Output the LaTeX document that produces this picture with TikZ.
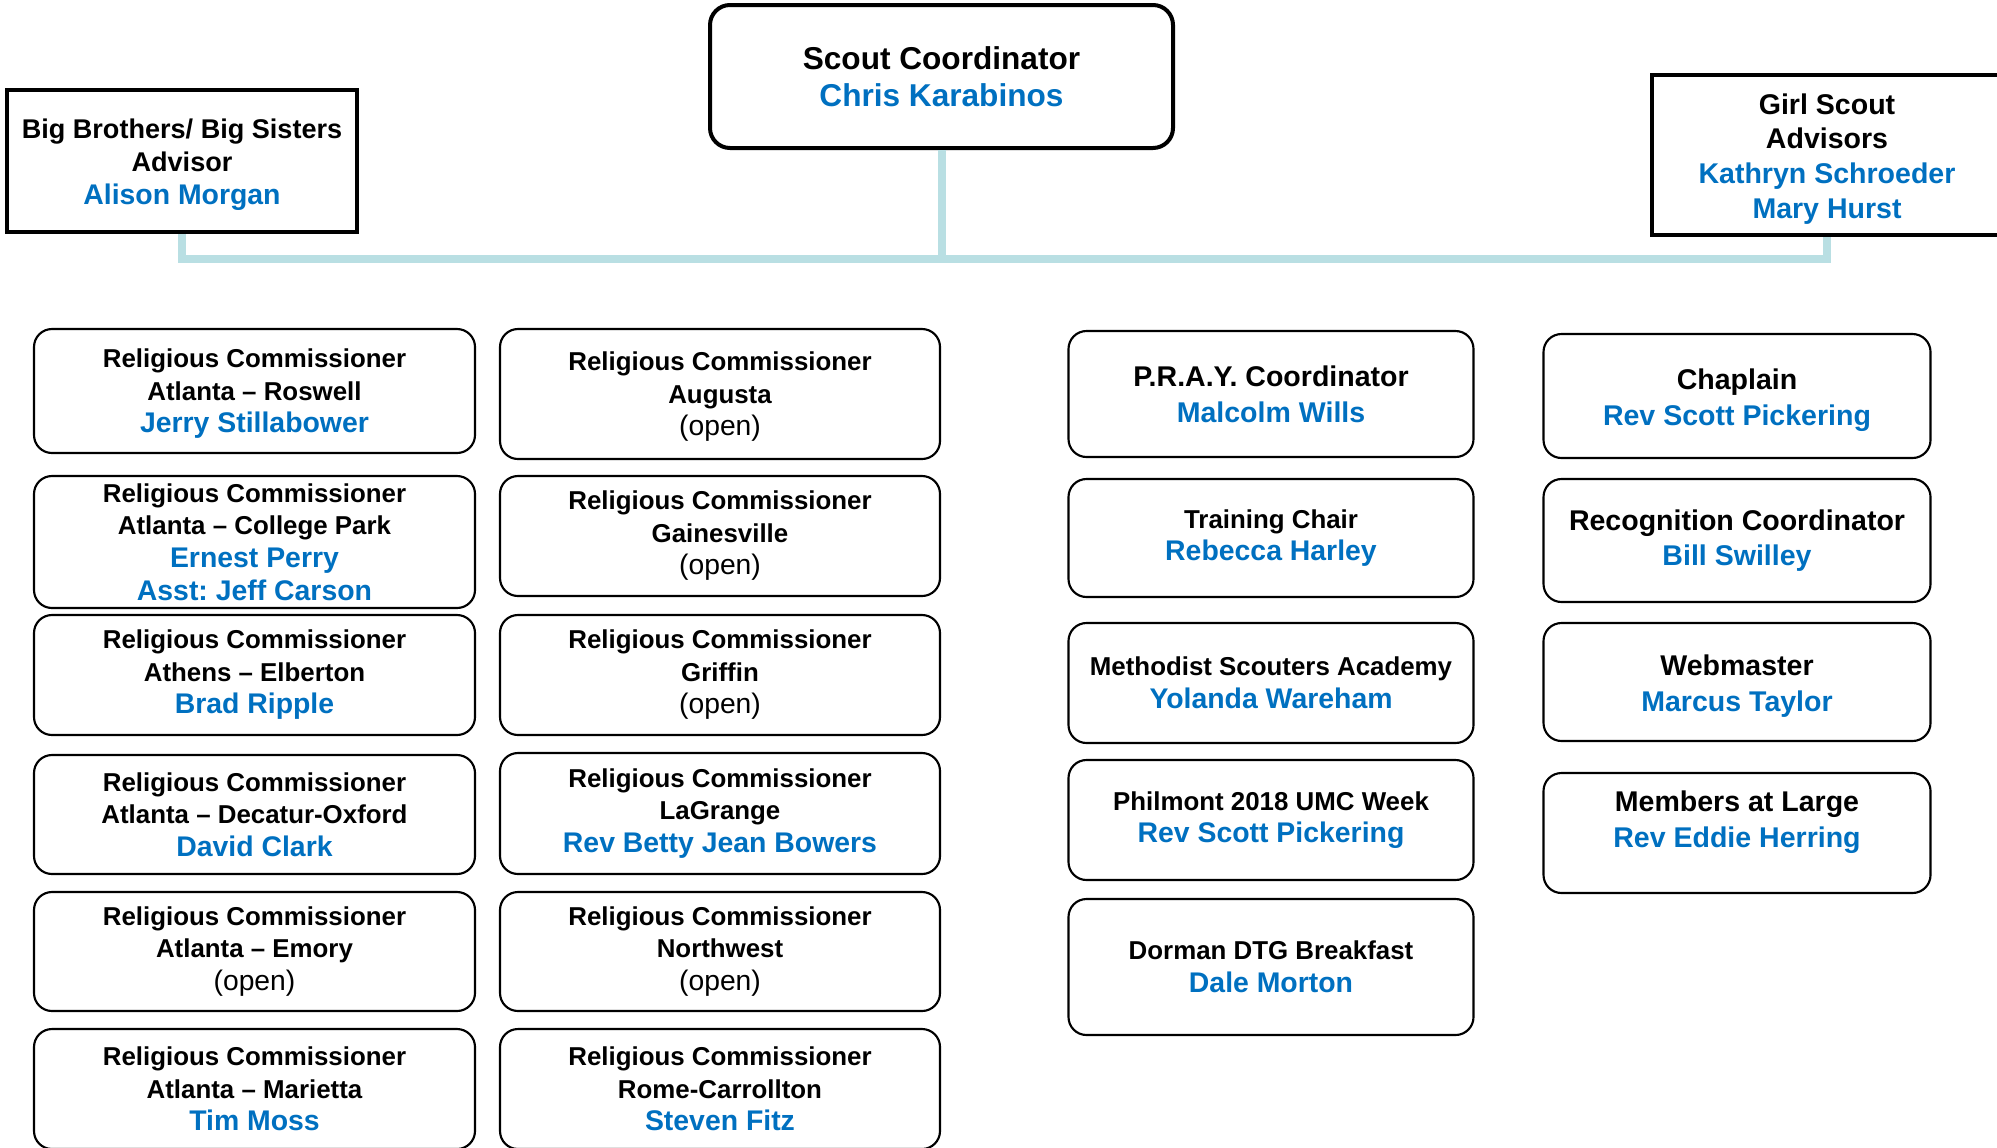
\documentclass[tikz,border=0pt]{standalone}
\usepackage{fontspec}
\setmainfont{Liberation Sans}
\frenchspacing
\definecolor{nameblue}{RGB}{0,112,192}
\definecolor{busblue}{RGB}{185,223,227}
\newcommand{\nm}[1]{{\color{nameblue}\fontsize{21.3}{24.4}\selectfont #1}}
\newcommand{\vacant}{{\mdseries\fontsize{21.2}{24.4}\selectfont (open)}}
\tikzset{every picture/.style={line width=0.75pt}}
\tikzset{
  rolebox/.style={draw, rounded corners=13.5pt, line width=1.6pt, align=center, inner sep=0pt,
    font=\fontsize{19.4}{24.4}\selectfont\bfseries},
  bigrole/.style={rolebox, font=\fontsize{21.4}{26.8}\selectfont\bfseries},
  headbox/.style={draw, line width=3pt, align=center, inner sep=0pt},
  link/.style={draw=busblue, line width=6pt}
}
\begin{document}
\begin{tikzpicture}[x=0.75pt,y=0.75pt,yscale=-1,xscale=1]
\useasboundingbox (0,0) rectangle (1997,1147);

% Text Node
\node [headbox, rounded corners=15pt, minimum width=347.25pt, minimum height=107.25pt,
  font=\fontsize{23.7}{27.75}\selectfont\bfseries] (scout) at (941.5,76.5)
  {Scout Coordinator\\{\color{nameblue}Chris Karabinos}};
% Text Node
\node [headbox, minimum width=262.5pt, minimum height=106.5pt,
  font=\fontsize{20.3}{24.75}\selectfont\bfseries] (bbbs) at (182,161)
  {\rule{0pt}{20pt}Big Brothers/ Big Sisters\\Advisor\\\nm{Alison Morgan}};
% Text Node
\node [headbox, minimum width=262.5pt, minimum height=120pt,
  font=\fontsize{21.4}{26}\selectfont\bfseries] (gsa) at (1827,155)
  {\rule{0pt}{21pt}Girl Scout\\Advisors\\{\color{nameblue}Kathryn Schroeder}\\{\color{nameblue}Mary Hurst}};

% Connection
\coordinate (busL) at (182,259);
\coordinate (busR) at (1827,259);
\draw [link] (bbbs.south) -- (busL) -- (busR) -- (gsa.south);
\draw [link] (scout.south) -- (scout.south |- busL);

% Text Node
\node [rolebox, minimum width=330.75pt, minimum height=93pt] (rcroswell) at (254.5,391)
  {\rule{0pt}{18pt}Religious Commissioner\\Atlanta -- Roswell\\\nm{Jerry Stillabower}};
\node [rolebox, minimum width=330.75pt, minimum height=99pt] (rccollege) at (254.5,542)
  {Religious Commissioner\\Atlanta -- College Park\\\nm{Ernest Perry}\\\nm{Asst: Jeff Carson}};
\node [rolebox, minimum width=330.75pt, minimum height=90pt] (rcathens) at (254.5,675)
  {Religious Commissioner\\Athens -- Elberton\\\nm{Brad Ripple}};
\node [rolebox, minimum width=330.75pt, minimum height=89.25pt] (rcdecatur) at (254.5,814.5)
  {Religious Commissioner\\Atlanta -- Decatur-Oxford\\\nm{David Clark}};
\node [rolebox, minimum width=330.75pt, minimum height=89.25pt] (rcemory) at (254.5,951.5)
  {Religious Commissioner\\Atlanta -- Emory\\\vacant};
\node [rolebox, minimum width=330.75pt, minimum height=90pt] (rcmarietta) at (254.5,1089)
  {Religious Commissioner\\Atlanta -- Marietta\\\nm{Tim Moss}};

% Text Node
\node [rolebox, minimum width=330pt, minimum height=97.5pt] (rcaugusta) at (720,394)
  {\rule{0pt}{18pt}Religious Commissioner\\Augusta\\\vacant};
\node [rolebox, minimum width=330pt, minimum height=90pt] (rcgainesville) at (720,536)
  {Religious Commissioner\\Gainesville\\\vacant};
\node [rolebox, minimum width=330pt, minimum height=90pt] (rcgriffin) at (720,675)
  {Religious Commissioner\\Griffin\\\vacant};
\node [rolebox, minimum width=330pt, minimum height=90.75pt] (rclagrange) at (720,813.5)
  {Religious Commissioner\\LaGrange\\\nm{Rev Betty Jean Bowers}};
\node [rolebox, minimum width=330pt, minimum height=89.25pt] (rcnorthwest) at (720,951.5)
  {Religious Commissioner\\Northwest\\\vacant};
\node [rolebox, minimum width=330pt, minimum height=90pt] (rcrome) at (720,1089)
  {Religious Commissioner\\Rome-Carrollton\\\nm{Steven Fitz}};

% Text Node
\node [bigrole, minimum width=303.75pt, minimum height=94.5pt] (pray) at (1271,394)
  {P.R.A.Y. Coordinator\\{\color{nameblue}Malcolm Wills}};
\node [rolebox, minimum width=303.75pt, minimum height=88.5pt] (training) at (1271,538)
  {Training Chair\\\nm{Rebecca Harley}};
\node [rolebox, minimum width=303.75pt, minimum height=90pt] (academy) at (1271,683)
  {Methodist Scouters Academy\\\nm{Yolanda Wareham}};
\node [rolebox, minimum width=303.75pt, minimum height=90pt] (philmont) at (1271,820)
  {Philmont 2018 UMC Week\\\nm{Rev Scott Pickering}};
\node [rolebox, minimum width=303.75pt, minimum height=102pt] (dorman) at (1271,967)
  {Dorman DTG Breakfast\\\nm{Dale Morton}};

% Text Node
\node [bigrole, minimum width=290.25pt, minimum height=93pt] (chaplain) at (1737,396)
  {\rule{0pt}{22pt}Chaplain\\{\color{nameblue}Rev Scott Pickering}};
\node [bigrole, minimum width=290.25pt, minimum height=92.25pt] (recognition) at (1737,540.5)
  {Recognition Coordinator\\{\color{nameblue}Bill Swilley}};
\node [bigrole, minimum width=290.25pt, minimum height=88.5pt] (webmaster) at (1737,682)
  {\rule{0pt}{22pt}Webmaster\\{\color{nameblue}Marcus Taylor}};
\node [bigrole, minimum width=290.25pt, minimum height=90pt] (members) at (1737,833)
  {Members at Large\\{\color{nameblue}Rev Eddie Herring}\\[-6pt]};

\end{tikzpicture}
\end{document}
